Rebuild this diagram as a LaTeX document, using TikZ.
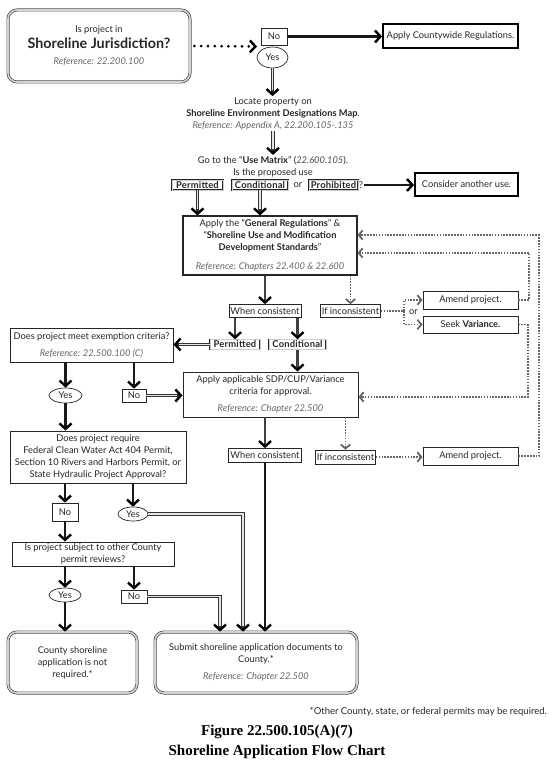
\documentclass[tikz,border=0pt]{standalone}
\usepackage{fontspec}
\setmainfont{Lato}
\newfontfamily\titlefont{Liberation Serif}
\newfontfamily\tagfont[LetterSpace=2]{Lato}
\usetikzlibrary{arrows.meta,calc,shapes.geometric}
\newcommand\rf[1]{{\itshape\color{black!60}#1}}
\tikzset{
  base/.style={font=\fontsize{9.3}{12}\selectfont, text=black!85, align=center, inner sep=1pt},
  rbox/.style={base, draw=black!70, double=gray!35, line width=0.7pt, double distance=1.6pt, rounded corners=9pt},
  sbox/.style={base, draw=black!85, line width=0.9pt},
  tbox/.style={base, draw=black, line width=1.8pt},
  lbl/.style={base, draw=black!85, line width=0.7pt, inner sep=1.2pt},
  tag/.style={base, font=\tagfont\fontsize{9.4}{10}\selectfont\bfseries, draw=black!85, double=gray!40, line width=0.5pt, double distance=0.9pt, inner sep=0.6pt, minimum height=10pt},
  oval/.style={base, ellipse, draw=black!85, line width=0.7pt, inner sep=0.5pt},
  chev/.tip={Straight Barb[length=5.5pt,width=12pt,line width=2.4pt]},
  dchev/.tip={Straight Barb[length=4pt,width=9.5pt,line width=1.8pt]},
  solidar/.style={draw=black!90, line width=2.2pt, -{chev[color=black]}},
  hollowar/.style={draw=black!80, line width=3.4pt, -{chev[color=black]},
    postaction={draw=gray!20, line width=1.4pt, arrows=-, shorten >=6pt}},
  dotln/.style={draw=black!60, line width=1.6pt, dash pattern=on 1.6pt off 1.3pt},
  dotar/.style={dotln, -{dchev[color=black!60]}},
  bigdot/.style={draw=black, line width=3pt, line cap=round, dash pattern=on 0pt off 6.8pt, -{chev[color=black]}},
}
\begin{document}
\begin{tikzpicture}[x=1pt,y=-1pt]
\useasboundingbox (0,0) rectangle (551,762);
\fill[white] (0,0) rectangle (551,762);

% top
\node[rbox, minimum width=182, minimum height=72] (jur) at (99,46)
  {Is project in\\[3pt]{\fontsize{14.3}{16}\selectfont\bfseries Shoreline Jurisdiction?}\\[4pt]\rf{Reference: 22.200.100}};
\node[lbl, minimum width=26, minimum height=17] (no1) at (274,36.5) {No};
\node[oval, minimum width=31, minimum height=21] (yes1) at (272.5,57.5) {Yes};
\node[tbox, minimum width=135, minimum height=24] (cw) at (450.5,36) {Apply Countywide Regulations.};
\coordinate (dend) at (257,46.5);
\draw[bigdot] ($(jur.east)+(4,0)$) -- (dend);
\draw[solidar] (no1.east) -- (no1.east -| cw.west);

\node[base] (loc) at (273,113.5) {Locate property on\\\textbf{Shoreline Environment Designations Map}.\\\rf{Reference: Appendix A, 22.200.105-.135}};
\draw[hollowar] (yes1.south) -- (yes1.south |- loc.north);

\node[base] (mat) at (273,166.5) {Go to the “\textbf{Use Matrix}” ({\itshape\color{black!70}22.600.105}).\\Is the proposed use};
\draw[hollowar] (loc.south) -- (mat.north);

\node[tag, minimum width=51] (perm1) at (197.5,185) {Permitted};
\node[tag, minimum width=56] (cond1) at (260,185) {Conditional};
\node[base] (or1) at (298,185) {or};
\node[tag, minimum width=49] (proh) at (333.5,185) {Prohibited};
\node[base, anchor=west, inner sep=0.5pt] (q) at (proh.east) {?};
\node[tbox, minimum width=103, minimum height=23] (cons) at (466.5,184.5) {Consider another use.};
\draw[solidar] (q.east) -- (q.east -| cons.west);

\node[sbox, line width=1.1pt, minimum width=174, minimum height=59] (gen) at (270,245.5)
  {Apply the “\textbf{General Regulations}” \&\\“\textbf{Shoreline Use and Modification}\\\textbf{Development Standards}”\\[7pt]\rf{Reference: Chapters 22.400 \& 22.600}};
\draw[hollowar] (perm1.south) -- (perm1.south |- gen.north);
\draw[hollowar] (cond1.south) -- (cond1.south |- gen.north);

\node[lbl, minimum width=72, minimum height=13] (wc1) at (265,311) {When consistent};
\node[lbl, minimum width=57, minimum height=13] (ic1) at (350.5,311) {If inconsistent};
\draw[solidar, draw=black!75] (wc1.north |- gen.south) -- (wc1.north);
\draw[dotar] (ic1.north |- gen.south) -- (ic1.north);

\node[sbox, minimum width=95, minimum height=18] (am1) at (470.5,300) {Amend project.};
\node[sbox, minimum width=95, minimum height=17] (seek) at (470.5,324.5) {Seek \textbf{Variance.}};
\coordinate (br) at (404,311);
\node[base] (or2) at (413.5,312.5) {or};
\draw[dotln] (ic1.east) -- (br);
\draw[dotar] (br) |- (am1.west);
\draw[dotar] (br) |- (seek.west);

\node[tag, minimum width=50] (perm2) at (235,344.5) {Permitted};
\node[tag, minimum width=57] (cond2) at (297.5,344.5) {Conditional};
\draw[solidar, draw=black!75] (perm2.north |- wc1.south) -- (perm2.north);
\draw[solidar, draw=black!75] (cond2.north |- wc1.south) -- (cond2.north);

\node[sbox, minimum width=163, minimum height=34] (exem) at (91.5,345)
  {Does project meet exemption criteria?\\[5pt]\rf{Reference: 22.500.100 (C)}};
\draw[hollowar] (perm2.west) -- (perm2.west -| exem.east);

\node[sbox, minimum width=175, minimum height=45] (sdp) at (270.5,394.5)
  {Apply applicable SDP/CUP/Variance\\criteria for approval.\\[5pt]\rf{Reference: Chapter 22.500}};
\draw[solidar, draw=black!75] (cond2.south) -- (cond2.south |- sdp.north);

\node[oval, minimum width=33, minimum height=15] (yes2) at (65.5,395.5) {Yes};
\node[lbl, minimum width=24, minimum height=13] (no2) at (134,395.5) {No};
\draw[solidar] (yes2.north |- exem.south) -- (yes2.north);
\draw[solidar] (no2.north |- exem.south) -- (no2.north);
\draw[hollowar] (no2.east) -- (no2.east -| sdp.west);

\node[lbl, minimum width=73, minimum height=14] (wc2) at (265,455.5) {When consistent};
\node[lbl, minimum width=59, minimum height=14] (ic2) at (345.5,457) {If inconsistent};
\node[sbox, minimum width=95, minimum height=18] (am2) at (470.5,456) {Amend project.};
\draw[solidar, draw=black!75] (wc2.north |- sdp.south) -- (wc2.north);
\draw[dotar] (ic2.north |- sdp.south) -- (ic2.north);
\draw[dotar] (ic2.east) -- (ic2.east -| am2.west);

% feedback loops
\coordinate (fb1) at (529,253);
\coordinate (fb2) at (539,235);
\coordinate (fb3) at (528,397);
\draw[dotar] (am1.east) -| (fb1) -- (fb1 -| gen.east);
\draw[dotar] (am2.east) -| (fb2) -- (fb2 -| gen.east);
\draw[dotar] (seek.east) -| (fb3) -- (fb3 -| sdp.east);

\node[sbox, minimum width=176, minimum height=52] (req) at (98,457)
  {Does project require\\Federal Clean Water Act 404 Permit,\\Section 10 Rivers and Harbors Permit, or\\State Hydraulic Project Approval?};
\draw[solidar] (yes2.south) -- (yes2.south |- req.north);

\node[lbl, minimum width=26, minimum height=18] (no3) at (65,512) {No};
\node[oval, minimum width=30, minimum height=14] (yes3) at (133,514) {Yes};
\draw[solidar] (no3.north |- req.south) -- (no3.north);
\draw[solidar] (yes3.north |- req.south) -- (yes3.north);

\node[sbox, minimum width=162, minimum height=24] (subj) at (93,554)
  {Is project subject to other County\\permit reviews?};
\draw[solidar] (no3.south) -- (no3.south |- subj.north);

\node[oval, minimum width=32, minimum height=14] (yes4) at (65,595) {Yes};
\node[lbl, minimum width=26, minimum height=13] (no4) at (134,596.5) {No};
\draw[solidar] (yes4.north |- subj.south) -- (yes4.north);
\draw[solidar] (no4.north |- subj.south) -- (no4.north);

\node[rbox, minimum width=129, minimum height=61] (csh) at (72.5,662.5)
  {County shoreline\\application is not\\required.*};
\node[rbox, minimum width=202, minimum height=61] (sub) at (256,662.5)
  {Submit shoreline application documents to\\County.*\\[5pt]\rf{Reference: Chapter 22.500}};
\draw[solidar] (yes4.south) -- (yes4.south |- csh.north);

\coordinate (j1) at (243,514);
\coordinate (j2) at (220,596.5);
\draw[hollowar] (yes3.east) -- (j1) -- (j1 |- sub.north);
\draw[hollowar] (no4.east) -- (j2) -- (j2 |- sub.north);
\draw[solidar] (wc2.south) -- (wc2.south |- sub.north);

\node[base, anchor=east, font=\fontsize{9.5}{11}\selectfont] (fn) at (548,712) {*Other County, state, or federal permits may be required.};
\node[align=center, font=\titlefont\bfseries\fontsize{15}{20}\selectfont] (title) at (277,742)
  {Figure 22.500.105(A)(7)\\Shoreline Application Flow Chart};
\end{tikzpicture}
\end{document}
